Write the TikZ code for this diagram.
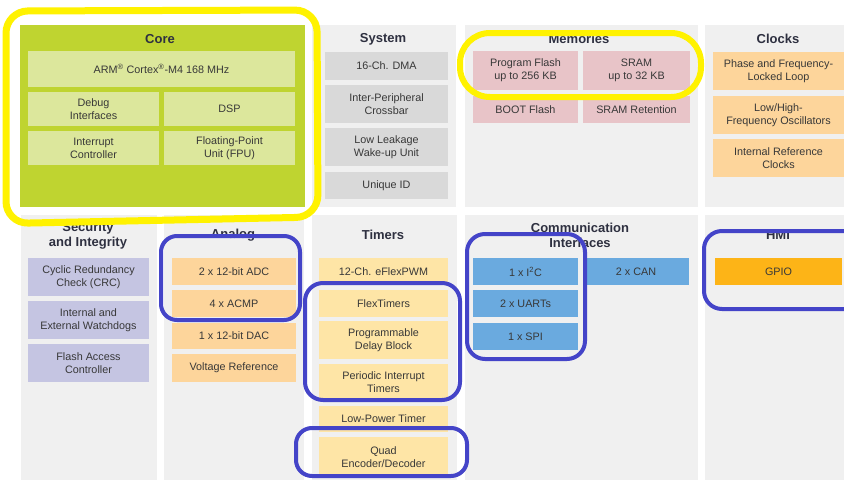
\documentclass[tikz,border=0pt]{standalone}
\usepackage{fontspec}
\setmainfont{Liberation Sans}
\usetikzlibrary{fit}
\definecolor{panelgrey}{HTML}{F0F0F0}
\definecolor{coregreen}{HTML}{BFD430}
\definecolor{lightgreen}{HTML}{DCE79C}
\definecolor{sysgrey}{HTML}{D9D9D9}
\definecolor{mempink}{HTML}{E8C4C8}
\definecolor{lorange}{HTML}{FDD59B}
\definecolor{lavender}{HTML}{C5C5E2}
\definecolor{lyellow}{HTML}{FEE5A6}
\definecolor{commblue}{HTML}{6AAADF}
\definecolor{gpioorange}{HTML}{FDB417}
\definecolor{ringyellow}{HTML}{FFF200}
\definecolor{ringblue}{HTML}{4444C8}
\definecolor{txt}{HTML}{383838}
\definecolor{ttl}{HTML}{2E3040}
\tikzset{
  panel/.style={fill=panelgrey,draw=none,inner sep=0pt},
  box/.style={draw=none,inner sep=0pt,align=center,text=txt,font=\fontsize{10.8}{13}\selectfont},
  ttlnode/.style={align=center,text=ttl,font=\bfseries\fontsize{13}{15}\selectfont,inner sep=0pt},
  yring/.style={draw=ringyellow,line width=6pt,inner sep=0pt},
  bring/.style={draw=ringblue,line width=4pt,inner sep=0pt},
}
\newcommand{\bx}[7]{\node[box,fill=#2,minimum width={(#5-#3)*1pt},minimum height={(#6-#4)*1pt}] (#1) at ({(#3+#5)/2},{(#4+#6)/2}) {#7};}
\newcommand{\pnl}[5]{\node[panel,fit={(#2,#3)(#4,#5)}] (#1) {};}
\begin{document}
\begin{tikzpicture}[x=1pt,y=-1pt]
\useasboundingbox[fill=white] (0,0) rectangle (844,480);
% panels
\node[fill=coregreen,inner sep=0pt,fit={(20,25)(305,207)}] (corepanel) {};
\pnl{syspanel}{312}{25}{456}{207}
\pnl{mempanel}{465}{25}{698}{207}
\pnl{clkpanel}{705}{25}{844}{207}
\pnl{secpanel}{21}{215}{157}{480}
\pnl{anapanel}{164}{215}{304}{480}
\pnl{timpanel}{312}{215}{457}{480}
\pnl{companel}{465}{215}{698}{480}
\pnl{hmipanel}{705}{215}{844}{480}
% titles
\node[ttlnode] (tcore) at (160,39) {Core};
\node[ttlnode] (tsys) at (383,39) {System};
\node[ttlnode] (tmem) at (579,39) {Memories};
\node[ttlnode] (tclk) at (778,39) {Clocks};
\node[ttlnode] (tsec) at (88,235.5) {Security\\and Integrity};
\node[ttlnode] (tana) at (233,235) {Analog};
\node[ttlnode] (ttim) at (383,235) {Timers};
\node[ttlnode] (tcom) at (580,235.5) {Communication\\Interfaces};
\node[ttlnode] (thmi) at (778,235) {HMI};
% core
\bx{arm}{lightgreen}{28}{51}{295}{87}{ARM\textsuperscript{\textregistered} Cortex\textsuperscript{\textregistered}-M4 168 MHz}
\bx{dbg}{lightgreen}{28}{92}{159}{126}{Debug\\Interfaces}
\bx{dsp}{lightgreen}{164}{92}{295}{126}{DSP}
\bx{intc}{lightgreen}{28}{131}{159}{165}{Interrupt\\Controller}
\bx{fpu}{lightgreen}{164}{131}{295}{165}{Floating-Point\\Unit (FPU)}
% system
\bx{dma}{sysgrey}{325}{52}{448}{80}{16-Ch. DMA}
\bx{xbar}{sysgrey}{325}{85}{448}{123}{Inter-Peripheral\\Crossbar}
\bx{llwu}{sysgrey}{325}{128}{448}{166}{Low Leakage\\Wake-up Unit}
\bx{uid}{sysgrey}{325}{172}{448}{199}{Unique ID}
% memories
\bx{pflash}{mempink}{473}{51}{578}{90}{Program Flash\\up to 256 KB}
\bx{sram}{mempink}{583}{51}{690}{90}{SRAM\\up to 32 KB}
\bx{boot}{mempink}{473}{96}{578}{123}{BOOT Flash}
\bx{sramret}{mempink}{583}{96}{690}{123}{SRAM Retention}
% clocks
\bx{pll}{lorange}{713}{52}{844}{90}{Phase and Frequency-\\Locked Loop}
\bx{osc}{lorange}{713}{96}{844}{134}{Low/High-\\Frequency Oscillators}
\bx{irc}{lorange}{713}{139}{844}{177}{Internal Reference\\Clocks}
% security
\bx{crc}{lavender}{28}{258}{149}{296}{Cyclic Redundancy\\Check (CRC)}
\bx{wdog}{lavender}{28}{301}{149}{339}{Internal and\\External Watchdogs}
\bx{fac}{lavender}{28}{344}{149}{382}{Flash Access\\Controller}
% analog
\bx{adc}{lorange}{172}{258}{296}{285}{2 x 12-bit ADC}
\bx{acmp}{lorange}{172}{290}{296}{317}{4 x ACMP}
\bx{dac}{lorange}{172}{323}{296}{349}{1 x 12-bit DAC}
\bx{vref}{lorange}{172}{354}{296}{382}{Voltage Reference}
% timers
\bx{pwm}{lyellow}{319}{258}{448}{285}{12-Ch. eFlexPWM}
\bx{ftm}{lyellow}{319}{290}{448}{317}{FlexTimers}
\bx{pdb}{lyellow}{319}{321}{448}{359}{Programmable\\Delay Block}
\bx{pit}{lyellow}{319}{364}{448}{400}{Periodic Interrupt\\Timers}
\bx{lpt}{lyellow}{319}{406}{448}{432}{Low-Power Timer}
\bx{qdec}{lyellow}{319}{437}{448}{477}{Quad\\Encoder/Decoder}
% communication
\bx{iic}{commblue}{473}{258}{578}{285}{1 x I\textsuperscript{2}C}
\bx{uart}{commblue}{473}{290}{578}{317}{2 x UARTs}
\bx{spi}{commblue}{473}{323}{578}{350}{1 x SPI}
\bx{can}{commblue}{583}{258}{689}{285}{2 x CAN}
% HMI
\bx{gpio}{gpioorange}{715}{258}{842}{285}{GPIO}
% highlight rings
\draw[draw=ringyellow,line width=7pt,rounded corners=22pt] (6,11) -- (317,10) -- (318,217) -- (6,223.5) -- cycle;
\node[yring,rounded corners=30pt,fit={(460,33)(701,97)}] (ringmem) {};
\node[bring,rounded corners=16pt,fit={(161,236)(300,320)}] (ringana) {};
\node[bring,rounded corners=18pt,fit={(305,283)(460,400)}] (ringftm) {};
\node[bring,rounded corners=16pt,fit={(296,428)(467,476)}] (ringqd) {};
\node[bring,rounded corners=18pt,fit={(467,234)(585,359)}] (ringcom) {};
\node[bring,rounded corners=18pt,fit={(704,231)(900,309)}] (ringhmi) {};
\end{tikzpicture}
\end{document}
